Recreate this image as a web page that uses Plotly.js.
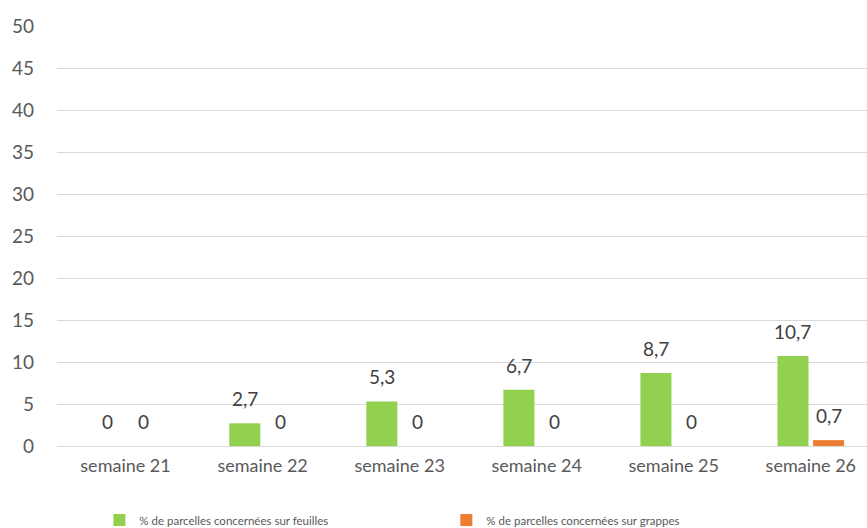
<!DOCTYPE html>
<html><head><meta charset="utf-8">
<script src="https://cdn.plot.ly/plotly-3.0.1.min.js"></script>
<style>html,body{margin:0;padding:0;background:#fff}#c{width:867px;height:528px}</style>
</head><body><div id="c"></div>
<script>
const categories = ["semaine 21","semaine 22","semaine 23","semaine 24","semaine 25","semaine 26"];
const feuilles = [0, 2.7, 5.3, 6.7, 8.7, 10.7];
const grappes = [0, 0, 0, 0, 0, 0.7];
const seriesNames = ["% de parcelles concernées sur feuilles", "% de parcelles concernées sur grappes"];
const yTicks = [0,5,10,15,20,25,30,35,40,45,50];

const fmt = v => String(v).replace('.', ',');
const FONT = "Lato, 'Open Sans', sans-serif";
const BARGAP = 0.48, BARGROUPGAP = 0.13;
const slot = (1 - BARGAP) / 2;   // width of each series slot in category units

const mk = (vals, name, color) => ({
  type: 'bar', x: categories, y: vals, name: name,
  marker: {color: color}, hoverinfo: 'none'
});

// data labels placed from the data through the axis scales
const labels = [];
[feuilles, grappes].forEach((vals, s) => {
  vals.forEach((v, i) => {
    labels.push({
      xref: 'x', yref: 'y', x: i + (s === 0 ? -slot / 2 : slot / 2), y: v,
      text: fmt(v), showarrow: false, yanchor: 'bottom', xanchor: 'center', yshift: 11,
      font: {family: FONT, size: 19, color: '#404040'}
    });
  });
});

Plotly.newPlot('c', [
  mk(feuilles, seriesNames[0], '#92D050'),
  mk(grappes, seriesNames[1], '#ED7D31')
], {
  width: 867, height: 528,
  margin: {l: 57, r: 0, t: 26, b: 82},
  paper_bgcolor: '#fff', plot_bgcolor: '#fff',
  barmode: 'group', bargap: BARGAP, bargroupgap: BARGROUPGAP,
  font: {family: FONT, color: '#595959'},
  xaxis: {range: [-0.5, 5.41], showgrid: false, zeroline: false, showline: false,
          ticks: '', ticklabelstandoff: 7, tickfont: {size: 18, color: '#595959'}, fixedrange: true},
  yaxis: {range: [0, 50], tickvals: yTicks, ticktext: yTicks.map(String),
          showgrid: true, gridcolor: '#d9d9d9', gridwidth: 1,
          zeroline: true, zerolinecolor: '#d9d9d9', zerolinewidth: 1,
          showline: false, ticks: '', ticklabelstandoff: 22,
          tickfont: {size: 19, color: '#595959'}, fixedrange: true},
  annotations: labels,
  showlegend: true,
  legend: {orientation: 'h', xref: 'container', yref: 'container', x: 0.1146, xanchor: 'left',
           y: 0.015, yanchor: 'middle',
           font: {size: 11.5, color: '#595959'}, entrywidth: 302, itemwidth: 30}
}, {displayModeBar: false, staticPlot: true});
</script></body></html>
